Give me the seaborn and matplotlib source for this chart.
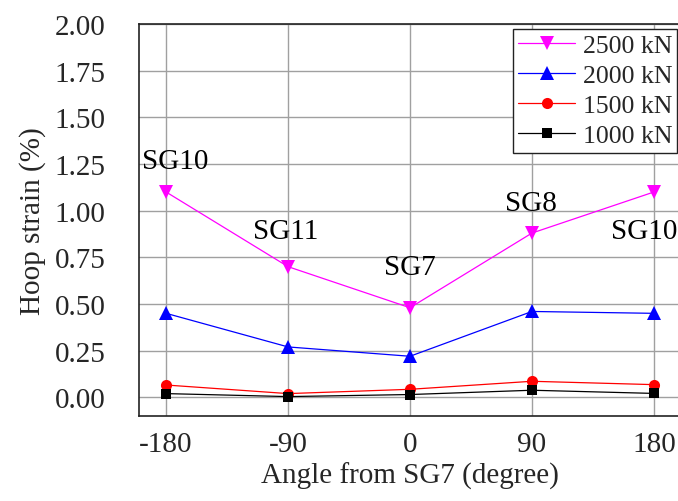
import numpy as np
import pandas as pd
import matplotlib
matplotlib.use("Agg")
import matplotlib.pyplot as plt
import seaborn as sns
from matplotlib.ticker import MultipleLocator

angles = [-180, -90, 0, 90, 180]
s2500 = [1.10, 0.70, 0.48, 0.88, 1.10]
s2000 = [0.45, 0.27, 0.22, 0.46, 0.45]
s1500 = [0.066, 0.020, 0.043, 0.086, 0.068]
s1000 = [0.020, 0.004, 0.015, 0.038, 0.021]
series_names = ["2500 kN", "2000 kN", "1500 kN", "1000 kN"]
gauge_labels = ["SG10", "SG11", "SG7", "SG8", "SG10"]
x_ticks = [-180, -90, 0, 90, 180]
y_ticks = [0.00, 0.25, 0.50, 0.75, 1.00, 1.25, 1.50, 1.75, 2.00]

sns.set_style("white")
plt.rcParams['font.family'] = ['Liberation Serif', 'DejaVu Serif']

df = pd.DataFrame({
    "angle": angles * 4,
    "strain": s2500 + s2000 + s1500 + s1000,
    "load": sum([[n] * len(angles) for n in series_names], []),
})

colors = {"2500 kN": "#FF00FF", "2000 kN": "#0000FF", "1500 kN": "#FF0000", "1000 kN": "#000000"}
markers = {"2500 kN": "v", "2000 kN": "^", "1500 kN": "o", "1000 kN": "s"}
msizes = {"2500 kN": 9.5, "2000 kN": 9.5, "1500 kN": 8, "1000 kN": 7}

fig = plt.figure(figsize=(6.78, 5.02), dpi=100)
ax = fig.add_axes([139/678, 1 - 417/502, (681 - 139)/678, (417 - 25)/502])

for name in series_names:
    sub = df[df["load"] == name]
    sns.lineplot(data=sub, x="angle", y="strain", ax=ax, color=colors[name],
                 marker=markers[name], markersize=msizes[name], markeredgewidth=0,
                 linewidth=0.9, label=name, zorder=3)

ax.set_xlim(-200, 200)
ax.set_ylim(-0.1, 2.0)
ax.set_xticks(x_ticks)
ax.set_xticklabels([str(t) for t in x_ticks])
ax.set_yticks(y_ticks)
ax.set_yticklabels([f"{t:.2f}" for t in y_ticks])
ax.xaxis.set_minor_locator(MultipleLocator(45))
ax.yaxis.set_minor_locator(MultipleLocator(0.125))
ax.grid(True, which="major", color="#a0a0a0", linewidth=1.0)
ax.set_axisbelow(True)

ax.tick_params(axis="both", which="major", direction="out", length=9, width=1,
               labelsize=21, color="black")
ax.tick_params(axis="both", which="minor", direction="out", length=5, width=1, color="black")
ax.tick_params(axis="x", which="major", pad=2)
ax.tick_params(axis="y", which="major", pad=15)
ax.tick_params(axis="x", which="both", top=False)

for sp in ["left", "bottom", "top"]:
    ax.spines[sp].set_color("#222222")
    ax.spines[sp].set_linewidth(1.2)
ax.spines["right"].set_visible(False)

ax.set_xlabel("Angle from SG7 (degree)", fontsize=21, labelpad=3)
ax.set_ylabel("Hoop strain (%)", fontsize=21, labelpad=6)

label_pos = [(-198, 1.265), (-116, 0.89), (-19, 0.70), (70, 1.04), (148, 0.89)]
for lab, (lx, ly) in zip(gauge_labels, label_pos):
    ax.text(lx, ly, lab, fontsize=21, ha="left", va="center", color="black")

leg = ax.legend(loc="upper right", bbox_to_anchor=(0.993, 0.988), bbox_transform=ax.transAxes,
                fontsize=18.5, frameon=True, fancybox=False, edgecolor="#222222", framealpha=1,
                handlelength=2.2, handletextpad=0.3, borderpad=0.2, labelspacing=0.28,
                borderaxespad=0.0)
leg.get_frame().set_linewidth(1.0)

fig.savefig("out.png", dpi=100)
